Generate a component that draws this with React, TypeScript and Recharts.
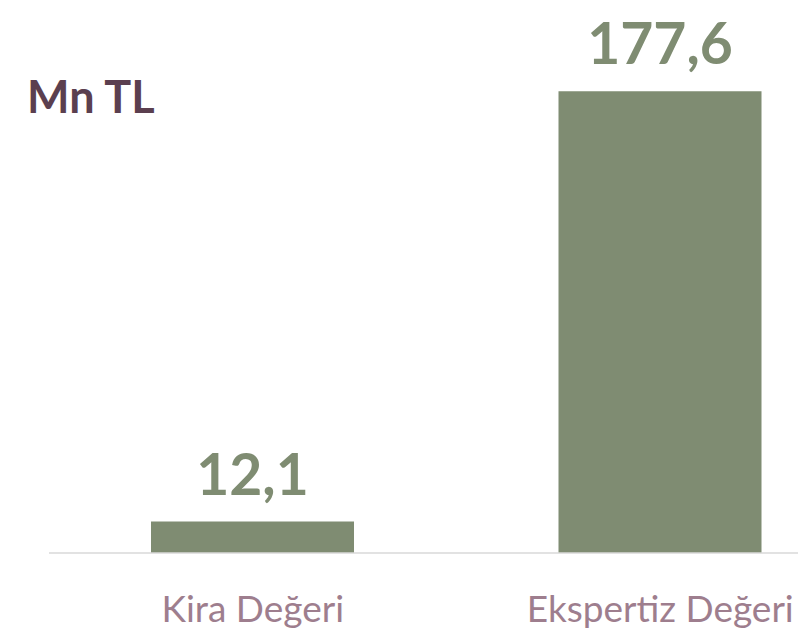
import { BarChart, Bar, XAxis, YAxis, LabelList } from 'recharts';

const categories = ['Kira Değeri', 'Ekspertiz Değeri'];
const values = [12.1, 177.6];
const unitLabel = 'Mn TL';

const data = categories.map((name, i) => ({ name, value: values[i] }));

const formatTr = (v: any) => (typeof v === 'number' ? v.toFixed(1).replace('.', ',') : v);

export default function App() {
  return (
    <div style={{ position: 'fixed', left: 0, top: 0, width: 798, height: 634, overflow: 'hidden', background: '#fff', fontFamily: 'Lato, sans-serif' }}>
      <div style={{ position: 'absolute', left: 27, top: 74, fontSize: 45, fontWeight: 700, color: '#5B3F4F', lineHeight: 1 }}>
        {unitLabel}
      </div>
      <BarChart width={870} height={634} data={data} margin={{ top: 33, right: 6, bottom: 0, left: 49 }}>
        <XAxis
          dataKey="name"
          height={81}
          tickSize={0}
          tickMargin={43}
          tickLine={false}
          axisLine={{ stroke: '#D9D9D9', strokeWidth: 1.5 }}
          tick={{ fill: '#9E7E8E', fontSize: 37, fontFamily: 'Lato, sans-serif' }}
        />
        <YAxis hide domain={[0, 200]} />
        <Bar dataKey="value" fill="#7F8C72" barSize={203} isAnimationActive={false}>
          <LabelList
            dataKey="value"
            position="top"
            offset={27}
            formatter={formatTr}
            fill="#7F8C72"
            fontSize={57}
            fontWeight={700}
            fontFamily="Lato, sans-serif"
          />
        </Bar>
      </BarChart>
    </div>
  );
}
